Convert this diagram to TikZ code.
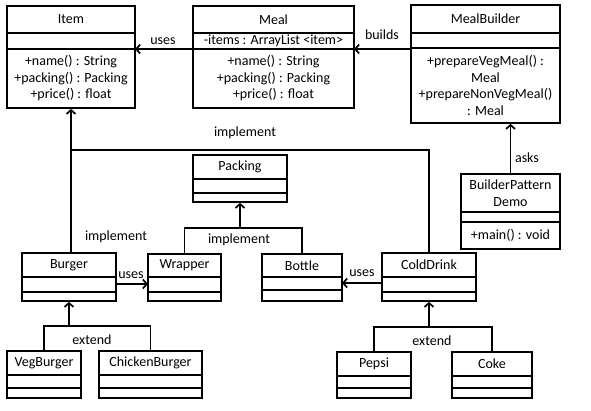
\documentclass[tikz,border=0pt]{standalone}
\usepackage{fontspec}
\setmainfont{Carlito}
\usetikzlibrary{arrows.meta,fit}
\tikzset{
  box/.style={draw, line width=1.7pt, inner sep=0pt},
  divider/.style={line width=1.7pt},
  txt/.style={inner sep=0pt, align=center, font=\fontsize{14}{16.5}\selectfont},
  lbl/.style={inner sep=0pt, font=\fontsize{14}{16}\selectfont},
  conn/.style={line width=1.7pt},
  arr/.style={line width=1.7pt, -{Straight Barb[length=4pt,width=9pt]}},
}
% #1 name, #2 x1, #3 y1, #4 x2, #5 y2, #6 d1, #7 d2, #8 header, #9 methods
\newcommand{\classbox}[9]{%
  \node[box, fit={(#2,#3) (#4,#5)}] (#1) {};
  \draw[divider] (#2,#6) -- (#4,#6);
  \draw[divider] (#2,#7) -- (#4,#7);
  \node[txt] (#1-h) at ({(#2+#4)/2},{(#3+#6)/2}) {#8};
  \node[txt] (#1-m) at ({(#2+#4)/2},{(#7+#5)/2}) {#9};
}
\begin{document}
\begin{tikzpicture}[x=1pt,y=-1pt]
\useasboundingbox[fill=white] (0,0) rectangle (591,410);

\classbox{Item}{7}{6}{135}{108}{33}{49}{Item}{+name() : String\\+packing() : Packing\\+price() : float}
\classbox{Meal}{193}{6}{354}{108}{33}{49}{Meal}{+name() : String\\+packing() : Packing\\+price() : float}
\node[txt] (Meal-a) at (273.5,41) {-items : ArrayList <item>};
\classbox{MealBuilder}{411}{5}{560}{123}{33}{48}{MealBuilder}{+prepareVegMeal() :\\Meal\\+prepareNonVegMeal()\\: Meal}
\classbox{BPD}{461}{174}{560}{249}{212}{222}{BuilderPattern\\Demo}{+main() : void}
\classbox{Packing}{193}{155}{287}{202}{179}{193}{Packing}{}
\classbox{Burger}{22}{253}{116}{301}{277}{292}{Burger}{}
\classbox{Wrapper}{148}{254}{221}{301}{277}{292}{Wrapper}{}
\classbox{Bottle}{262}{254}{342}{301}{277}{290}{Bottle}{}
\classbox{ColdDrink}{382}{253}{476}{301}{277}{292}{ColdDrink}{}
\classbox{VegBurger}{7}{351}{81}{398}{375}{388}{VegBurger}{}
\classbox{ChickenBurger}{99}{351}{202}{398}{375}{388}{ChickenBurger}{}
\classbox{Pepsi}{337}{352}{411}{398}{376}{388}{Pepsi}{}
\classbox{Coke}{452}{352}{532}{398}{376}{388}{Coke}{}

% Meal uses Item
\coordinate (mealL) at (193,49);
\coordinate (itemR) at (135,49);
\draw[arr] (mealL) -- (itemR);
\node[lbl] (usesA) at (163,41) {uses};
% MealBuilder builds Meal
\coordinate (mbL) at (411,49);
\coordinate (mealR) at (354,49);
\draw[arr] (mbL) -- (mealR);
\node[lbl] (builds) at (382,35) {builds};
% asks
\draw[arr] (BPD.north) -- (BPD.north |- MealBuilder.south);
\node[lbl] (asks) at (527,158) {asks};

% implement Item
\coordinate (impl) at (71,150);
\draw[conn] (ColdDrink.north) |- (impl);
\draw[arr] (Item.south |- Burger.north) -- (Item.south);
\node[lbl] (implA) at (245,133) {implement};
\node[lbl] (implB) at (116,237) {implement};

% implement Packing
\coordinate (pk) at (240,228);
\draw[conn] (Wrapper.north) |- (pk) -| (Bottle.north);
\draw[arr] (pk) -- (Packing.south);
\node[lbl] (implC) at (239,240) {implement};

% uses
\coordinate (bgR) at (116,284);
\coordinate (wrL) at (148,284);
\draw[arr] (bgR) -- (wrL);
\node[lbl] (usesB) at (131,275) {uses};
\coordinate (cdL) at (382,283);
\coordinate (btR) at (342,283);
\draw[arr] (cdL) -- (btR);
\node[lbl] (usesC) at (362,273) {uses};

% extend Burger
\coordinate (ex1) at (69,326);
\draw[conn] (VegBurger.north) |- (ex1) -| (ChickenBurger.north);
\draw[arr] (ex1) -- (Burger.south);
\node[lbl] (extA) at (92,340) {extend};

% extend ColdDrink
\coordinate (ex2) at (429,327);
\draw[conn] (Pepsi.north) |- (ex2) -| (Coke.north);
\draw[arr] (ex2) -- (ColdDrink.south);
\node[lbl] (extB) at (432,341) {extend};
\end{tikzpicture}
\end{document}
